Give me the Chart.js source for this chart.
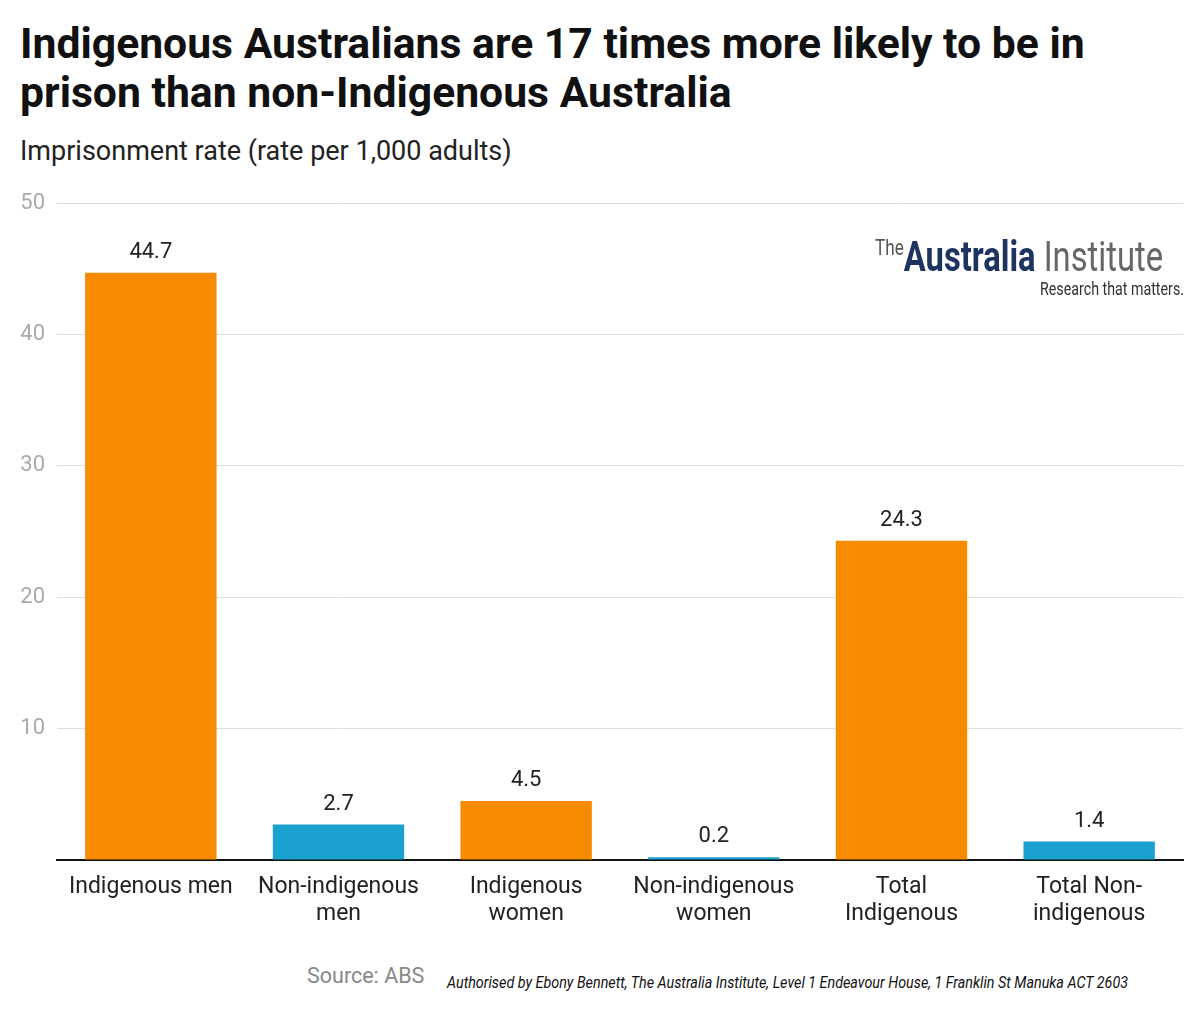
<!DOCTYPE html>
<html>
<head>
<meta charset="utf-8">
<script src="https://cdn.jsdelivr.net/npm/chart.js@4/dist/chart.umd.min.js"></script>
<style>
  body { margin: 0; background: #fff; font-family: Roboto, sans-serif; }
  #wrap { position: relative; width: 1200px; height: 1012px; overflow: hidden; }
  h1 { position: absolute; left: 20px; top: 19px; margin: 0; font-size: 42.7px; line-height: 49px; font-weight: 700; color: #111; white-space: nowrap; }
  .sub { position: absolute; left: 20px; top: 135px; font-size: 27px; color: #222; }
  #box { position: absolute; left: 0; top: 178px; width: 1200px; height: 767px; }
  .fit { position: absolute; white-space: nowrap; transform-origin: left top; }
  .logo-main { left: 875px; top: 226px; font-size: 42px; line-height: 44px; }
  .logo-main .the { color: #555; font-size: 22px; vertical-align: 16px; }
  .logo-main .aus { color: #1d3461; font-weight: 700; }
  .logo-main .inst { color: #666; }
  .logo-tag { left: 1040px; top: 278px; font-size: 18px; color: #333; }
  .src { position: absolute; left: 307px; top: 963px; font-size: 21.5px; color: #888; }
  .auth { left: 447px; top: 973px; font-style: italic; font-size: 16px; color: #111; }
</style>
</head>
<body>
<div id="wrap">
  <h1>Indigenous Australians are 17 times more likely to be in<br>prison than non-Indigenous Australia</h1>
  <div class="sub">Imprisonment rate (rate per 1,000 adults)</div>
  <div id="box"><canvas id="c" width="1200" height="767"></canvas></div>
  <div class="fit logo-main" data-w="288"><span class="the">The</span><span class="aus">Australia</span><span class="inst"> Institute</span></div>
  <div class="fit logo-tag" data-w="144">Research that matters.</div>
  <div class="src">Source: ABS</div>
  <div class="fit auth" data-w="681">Authorised by Ebony Bennett, The Australia Institute, Level 1 Endeavour House, 1 Franklin St Manuka ACT 2603</div>
</div>
<script>
// data
const categories = [
    'Indigenous men',
    ['Non-indigenous', 'men'],
    ['Indigenous', 'women'],
    ['Non-indigenous', 'women'],
    ['Total', 'Indigenous'],
    ['Total Non-', 'indigenous']
];
const rates = [44.7, 2.7, 4.5, 0.2, 24.3, 1.4];
const isIndigenous = [true, false, true, false, true, false];
const yTicks = [10, 20, 30, 40, 50];

const ORANGE = '#F68B00';
const BLUE = '#1AA1CF';

// squeeze the narrow-font texts (logo, authorisation) to their widths
document.querySelectorAll('.fit').forEach(el => {
    const w = el.getBoundingClientRect().width;
    el.style.transform = 'scaleX(' + (+el.dataset.w / w) + ')';
});

// value labels above each bar
const valueLabels = {
    id: 'valueLabels',
    afterDatasetsDraw(chart) {
        const ctx = chart.ctx;
        const meta = chart.getDatasetMeta(0);
        ctx.save();
        ctx.font = '22px Roboto';
        ctx.fillStyle = '#222';
        ctx.textAlign = 'center';
        ctx.textBaseline = 'alphabetic';
        meta.data.forEach((bar, i) => {
            ctx.fillText(rates[i].toFixed(1), bar.x, bar.y - 15);
        });
        ctx.restore();
    }
};

new Chart(document.getElementById('c'), {
    type: 'bar',
    data: {
        labels: categories,
        datasets: [{
            data: rates,
            backgroundColor: isIndigenous.map(v => v ? ORANGE : BLUE),
            categoryPercentage: 0.7,
            barPercentage: 1
        }]
    },
    options: {
        responsive: false,
        animation: false,
        layout: { padding: { top: 10, right: 17, left: 0, bottom: 0 } },
        plugins: { legend: { display: false }, tooltip: { enabled: false } },
        scales: {
            x: {
                afterFit: s => { s.height = 85; },
                grid: { display: false },
                border: { display: true, color: '#111', width: 2 },
                ticks: {
                    color: '#222',
                    font: { family: 'Roboto', size: 23, lineHeight: 1.17 },
                    padding: 6,
                    maxRotation: 0,
                    autoSkip: false
                }
            },
            y: {
                min: 0,
                max: 50,
                afterFit: s => { s.width = 57; },
                afterBuildTicks: s => { s.ticks = [0, ...yTicks].map(v => ({ value: v })); },
                grid: { color: '#e0e0e0', lineWidth: 1, drawTicks: false },
                border: { display: false },
                ticks: {
                    color: '#aaa',
                    font: { family: 'Roboto', size: 22 },
                    padding: 12,
                    callback: v => v === 0 ? '' : v
                }
            }
        }
    },
    plugins: [valueLabels]
});
</script>
</body>
</html>
